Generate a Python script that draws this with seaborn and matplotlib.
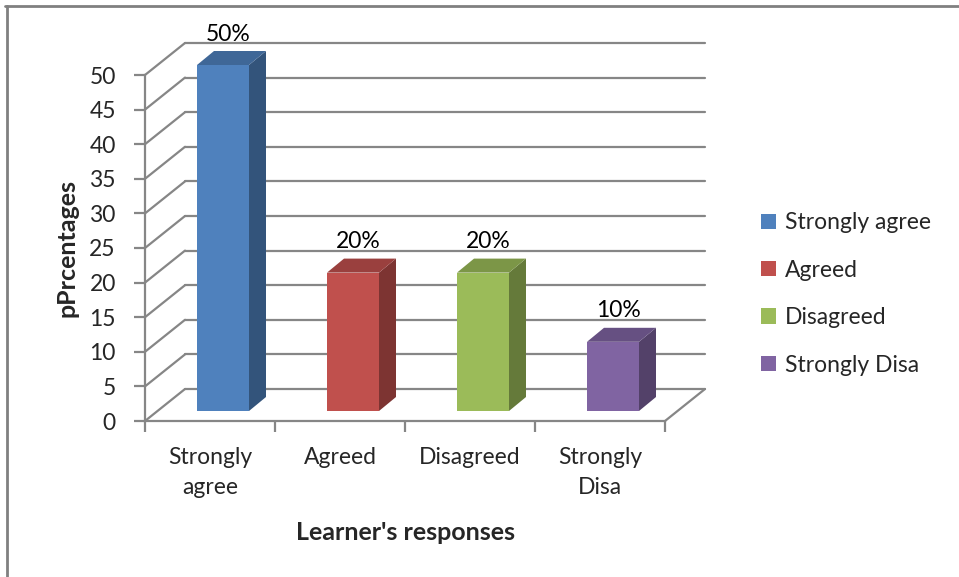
import matplotlib.pyplot as plt
import matplotlib.colors as mcolors
from matplotlib.lines import Line2D
from matplotlib.patches import Patch, Polygon
from matplotlib.transforms import ScaledTranslation
import seaborn as sns

categories = ["Strongly\nagree", "Agreed", "Disagreed", "Strongly\nDisa"]
legend_labels = ["Strongly agree", "Agreed", "Disagreed", "Strongly Disa"]
values = [50, 20, 20, 10]
value_labels = ["50%", "20%", "20%", "10%"]
colors = ["#4F81BD", "#C0504D", "#9BBB59", "#8064A2"]
y_ticks = list(range(0, 55, 5))

W, H, DPI = 959, 577, 100
FS = 16.5
GRID = "#868686"
BACK = (40, 32)       # depth of the back wall, pixels (right, up)
BAR_SHIFT = (13, 10)  # where the bar fronts sit inside the depth
BAR_DEPTH = (17, 14)  # depth of each bar

sns.set_theme(style="white")
plt.rcParams["font.family"] = ["Lato", "DejaVu Sans"]

fig = plt.figure(figsize=(W / DPI, H / DPI), dpi=DPI)
ax = fig.add_axes([145 / W, 1 - 421 / H, 520 / W, (421 - 75) / H])

sns.barplot(x=categories, y=values, hue=categories, palette=colors, width=0.4,
            legend=False, saturation=1, ax=ax)
ax.set_xlim(-0.5, 3.5)
ax.set_ylim(0, 50)
ax.set_yticks(y_ticks)
fig.canvas.draw()


def shift(x, y, dx, dy):
    px, py = ax.transData.transform((x, y))
    return ax.transData.inverted().transform((px + dx, py + dy))


# back wall and left wall gridlines
for v in y_ticks:
    b0 = shift(-0.5, v, *BACK)
    b1 = shift(3.5, v, *BACK)
    ax.plot([b0[0], b1[0]], [b0[1], b1[1]], color=GRID, lw=1.6, clip_on=False, zorder=0)
    ax.plot([-0.5, b0[0]], [v, b0[1]], color=GRID, lw=1.6, clip_on=False, zorder=0)
r = shift(3.5, 0, *BACK)
ax.plot([3.5, r[0]], [0, r[1]], color=GRID, lw=1.6, clip_on=False, zorder=0)

# give the flat bars a 3d look
offset = ScaledTranslation(BAR_SHIFT[0] / DPI, BAR_SHIFT[1] / DPI, fig.dpi_scale_trans)
for bar, color, v, label in zip(ax.patches, colors, values, value_labels):
    x0 = bar.get_x()
    x1 = x0 + bar.get_width()
    bar.set_edgecolor("none")
    bar.set_transform(ax.transData + offset)
    bar.set_clip_on(False)
    bar.set_zorder(3)
    rgb = mcolors.to_rgb(color)
    side_c = tuple(c * 0.65 for c in rgb)
    top_c = tuple(c * 0.8 for c in rgb)
    sx, sy = BAR_SHIFT
    dx, dy = sx + BAR_DEPTH[0], sy + BAR_DEPTH[1]
    side = [shift(x1, 0, sx, sy), shift(x1, v, sx, sy), shift(x1, v, dx, dy), shift(x1, 0, dx, dy)]
    top = [shift(x0, v, sx, sy), shift(x1, v, sx, sy), shift(x1, v, dx, dy), shift(x0, v, dx, dy)]
    ax.add_patch(Polygon(side, closed=True, facecolor=side_c, edgecolor="none", clip_on=False, zorder=2))
    ax.add_patch(Polygon(top, closed=True, facecolor=top_c, edgecolor="none", clip_on=False, zorder=2))
    lx, ly = shift((x0 + x1) / 2, v, sx + 5, sy + 31)
    ax.text(lx, ly, label, ha="center", va="center", fontsize=FS, color="black", zorder=4)

for s in ["top", "right"]:
    ax.spines[s].set_visible(False)
for s in ["left", "bottom"]:
    ax.spines[s].set_color(GRID)
    ax.spines[s].set_linewidth(1.6)

ax.tick_params(axis="y", length=8, width=1.6, color=GRID, labelsize=FS, pad=13, left=True)
ax.set_xticks([-0.5, 0.5, 1.5, 2.5, 3.5], minor=True)
ax.tick_params(axis="x", which="minor", length=8, width=1.6, color=GRID, bottom=True)
ax.tick_params(axis="x", which="major", length=0, labelsize=FS, pad=19)
for t in ax.get_xticklabels():
    t.set_linespacing(1.5)

ax.set_ylabel("pPrcentages", fontsize=18, fontweight="bold", labelpad=8)
ax.set_xlabel("Learner's responses", fontsize=18, fontweight="bold", labelpad=17)

handles = [Patch(facecolor=c, edgecolor="none") for c in colors]
fig.legend(handles, legend_labels, loc="center left", bbox_to_anchor=(740 / W, 1 - 294 / H),
           frameon=False, fontsize=FS, handlelength=0.65, handleheight=0.65,
           handletextpad=0.4, labelspacing=1.15)

# chart border (only top and left edges show)
fig.add_artist(Line2D([5 / W, 1], [1 - 6 / H, 1 - 6 / H], color="#808080", lw=2))
fig.add_artist(Line2D([7 / W, 7 / W], [0, 1 - 6 / H], color="#808080", lw=2))

fig.savefig("out.png", dpi=DPI)
plt.close(fig)
